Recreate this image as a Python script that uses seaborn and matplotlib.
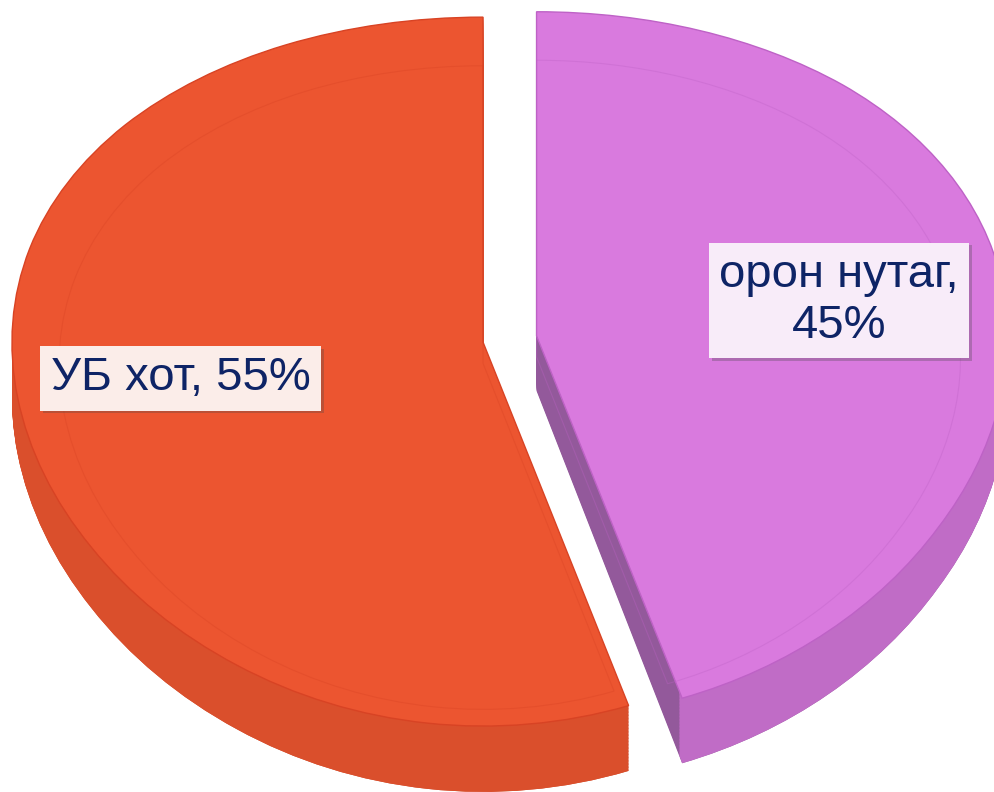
import numpy as np
import seaborn as sns
import matplotlib.pyplot as plt
import matplotlib.patheffects as pe

# data
labels = ['УБ хот, 55%', 'орон нутаг,\n45%']
shares = [55, 45]
top_colors = ['#EC5530', '#D97ADE']
cut_colors = ['#D24B2A', '#93599B']
rim_colors = ['#DA4F2C', '#C06CC6']
edge_colors = ['#D84324', '#BE62C6']
box_colors = ['#FBEDE9', '#F8ECF9']
explode = [0.03, 0.085]

sns.set_theme(style='white')
plt.rcParams['font.family'] = ['Liberation Sans', 'DejaVu Sans']

# simple perspective: far side of the pie squeezed, near side stretched
a = 0.083
def fwd(y):
    return y / (1 + a * y)
def inv(s):
    return s / (1 - a * s)

fig = plt.figure(figsize=(9.94, 7.92), dpi=100)
ax = fig.add_axes([0, 0, 1, 1])
ax.set_yscale('function', functions=(fwd, inv))

depth = 0.155
levels = np.linspace(depth, 0.004, 45)
# thickness: stack of darker pies going down (cut faces)
for d in levels:
    ax.pie(shares, explode=explode, startangle=90, counterclock=True,
           colors=cut_colors, center=(0, -d), radius=1,
           wedgeprops=dict(linewidth=0))
# outer rim: stack of thin rings
for d in levels:
    ax.pie(shares, explode=explode, startangle=90, counterclock=True,
           colors=rim_colors, center=(0, -d), radius=1,
           wedgeprops=dict(linewidth=0, width=0.02))

# top face
wedges, texts = ax.pie(shares, explode=explode, startangle=90, counterclock=True,
                       colors=top_colors, labels=labels, labeldistance=0.65,
                       center=(0, 0), radius=1,
                       wedgeprops=dict(linewidth=1.0))
for w, ec in zip(wedges, edge_colors):
    w.set_edgecolor(ec)

# faint inner outline seen through the top
inner, _ = ax.pie(shares, explode=explode, startangle=90, counterclock=True,
                  center=(0, -0.06), radius=0.9,
                  wedgeprops=dict(fill=False, linewidth=0.8))
for w, ec in zip(inner, edge_colors):
    w.set_edgecolor(ec)
    w.set_alpha(0.35)

for t, bc in zip(texts, box_colors):
    t.set_ha('center')
    t.set_va('center')
    t.set_multialignment('center')
    t.set_fontsize(34)
    t.set_color('#0E2466')
    t.set_bbox(dict(boxstyle='square,pad=0.22', facecolor=bc, edgecolor='none'))
    t.get_bbox_patch().set_path_effects([pe.SimplePatchShadow(offset=(2, -2), alpha=0.3),
                                         pe.Normal()])

ax.set_aspect('auto')
ax.set_xlim(-1.055, 1.055)
ax.set_ylim(-1.160, 1.0527)
ax.axis('off')

fig.savefig('out.png', dpi=100, facecolor='white')
